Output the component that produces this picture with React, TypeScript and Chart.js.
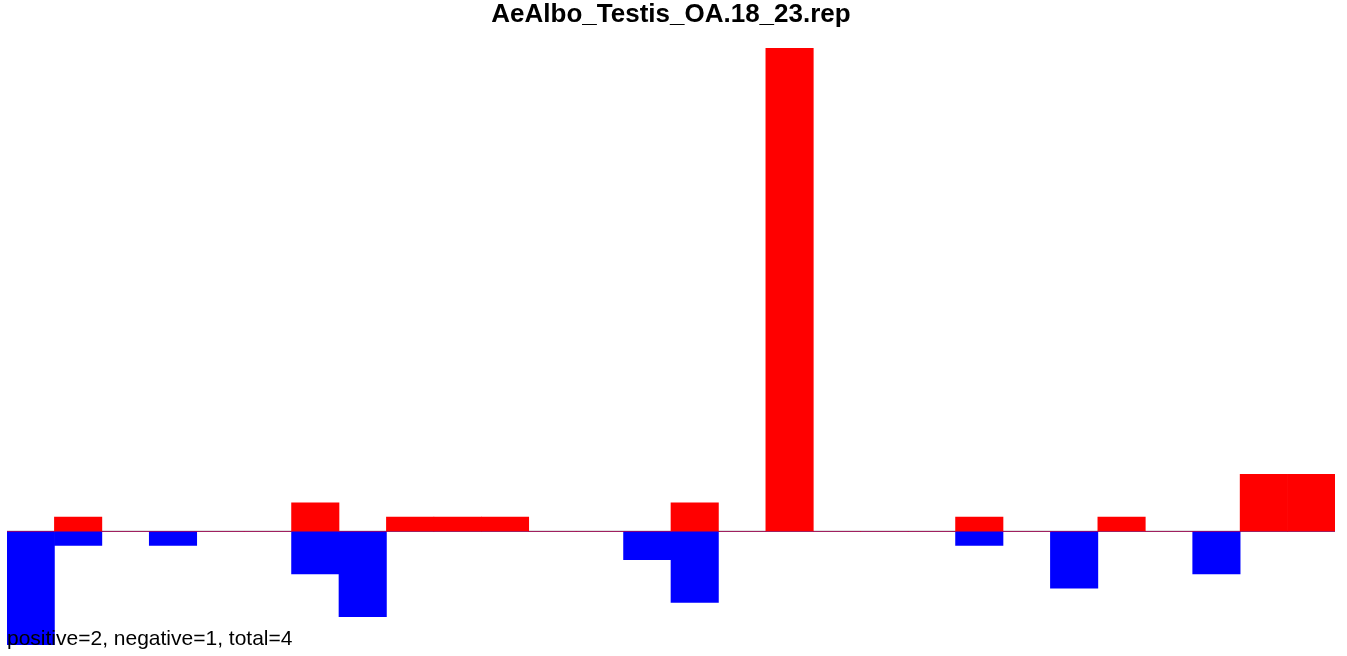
import React, { useEffect, useRef } from "react";
import { Chart, registerables } from "chart.js";

Chart.register(...registerables);

const titleText = "AeAlbo_Testis_OA.18_23.rep";
const footText = "positive=2, negative=1, total=4";

const categories: string[] = Array.from({ length: 28 }, (_, i) => String(i + 1));

const positiveValues: number[] = [
  0, 1, 0, 0, 0, 0, 2, 0, 1, 1, 1, 0, 0, 0, 2, 0, 34, 0, 0, 0, 1, 0, 0, 1, 0, 0, 4, 4,
];

const negativeValues: number[] = [
  -8, -1, 0, -1, 0, 0, -3, -6, 0, 0, 0, 0, 0, -2, -5, 0, 0, 0, 0, 0, -1, 0, -4, 0, 0, -3, 0, 0,
];

const yMin = -8;
const yMax = 34;

const textPlugin = {
  id: "customText",
  beforeDatasetsDraw(chart: any) {
    const { ctx, chartArea, scales } = chart;
    const y0 = scales.y.getPixelForValue(0);
    ctx.save();
    ctx.strokeStyle = "#808080";
    ctx.lineWidth = 1.2;
    ctx.beginPath();
    ctx.moveTo(chartArea.left, y0);
    ctx.lineTo(chartArea.right, y0);
    ctx.stroke();
    ctx.restore();
  },
  afterDraw(chart: any) {
    const { ctx, chartArea } = chart;
    ctx.save();
    ctx.fillStyle = "#000000";
    ctx.textBaseline = "alphabetic";
    ctx.textAlign = "center";
    ctx.font = "bold 26px 'Liberation Sans', Arial, sans-serif";
    ctx.fillText(titleText, (chartArea.left + chartArea.right) / 2, 22);
    ctx.textAlign = "left";
    ctx.font = "21px 'Liberation Sans', Arial, sans-serif";
    ctx.fillText(footText, 7, 645);
    ctx.restore();
  },
};

export default function App() {
  const canvasRef = useRef<HTMLCanvasElement | null>(null);

  useEffect(() => {
    if (!canvasRef.current) return;
    const chart = new Chart(canvasRef.current, {
      type: "bar",
      data: {
        labels: categories,
        datasets: [
          {
            label: "positive",
            data: positiveValues,
            backgroundColor: "#FF0000",
            borderWidth: 0,
            barPercentage: 1,
            categoryPercentage: 1,
            grouped: false,
          },
          {
            label: "negative",
            data: negativeValues,
            backgroundColor: "#0000FF",
            borderWidth: 0,
            barPercentage: 1,
            categoryPercentage: 1,
            grouped: false,
          },
        ],
      },
      options: {
        animation: false,
        responsive: false,
        maintainAspectRatio: false,
        layout: { padding: { left: 7, right: 12, top: 48, bottom: 11 } },
        plugins: {
          legend: { display: false },
          title: { display: false },
          tooltip: { enabled: false },
        },
        scales: {
          x: { display: false, offset: true },
          y: { display: false, min: yMin, max: yMax },
        },
      },
      plugins: [textPlugin],
    });
    return () => chart.destroy();
  }, []);

  return (
    <div style={{ position: "fixed", left: 0, top: 0, width: 1347, height: 656, background: "#ffffff" }}>
      <canvas ref={canvasRef} width={1347} height={656} style={{ width: 1347, height: 656, display: "block" }} />
    </div>
  );
}
